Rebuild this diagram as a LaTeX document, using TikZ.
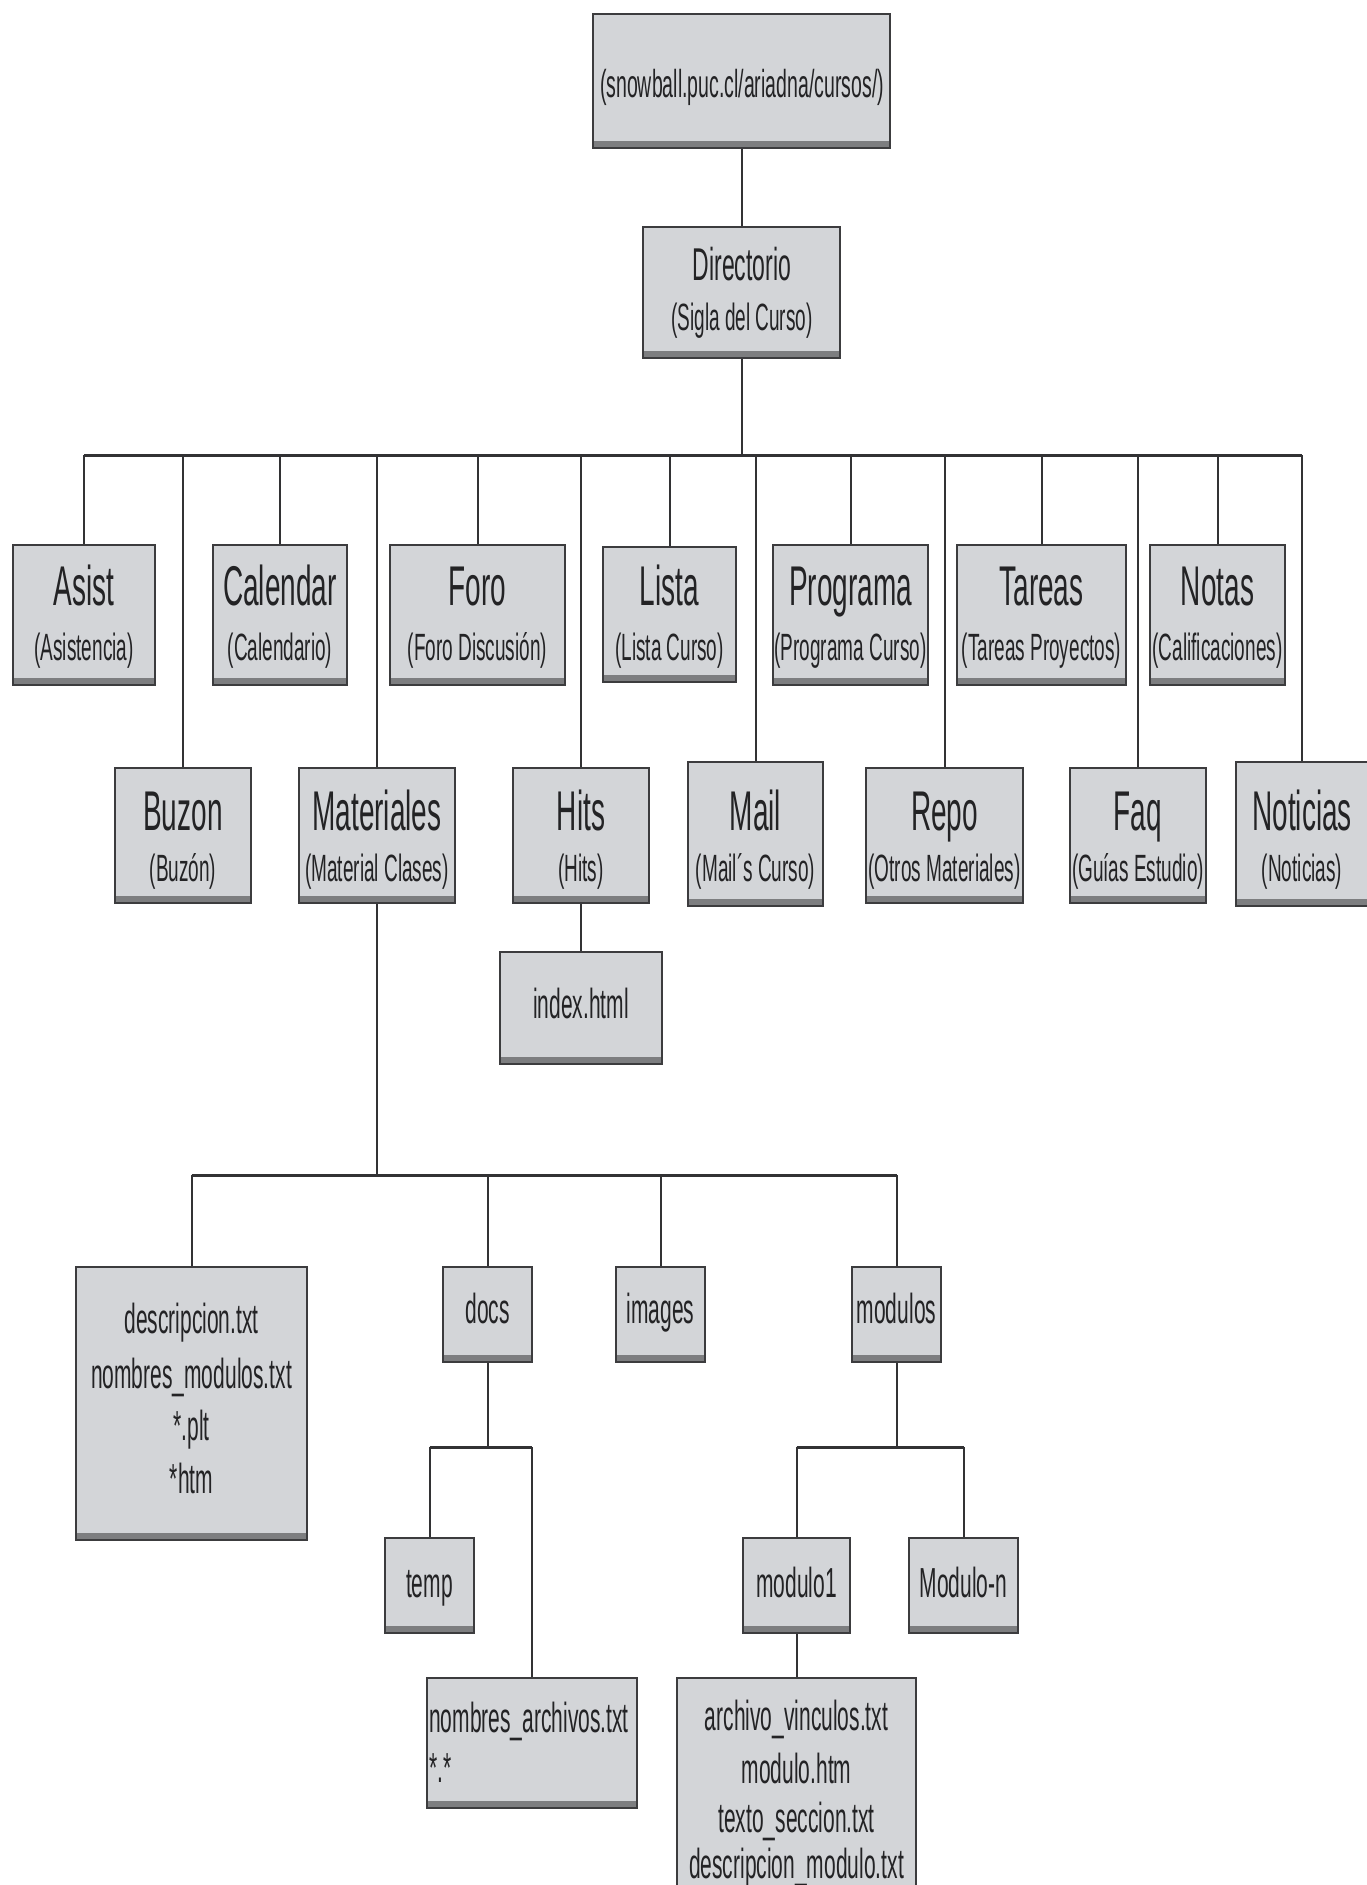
\documentclass[tikz,border=0pt]{standalone}
\usepackage{fontspec}
\setmainfont[FakeStretch=0.5]{Liberation Sans}
\definecolor{boxfill}{RGB}{211,213,216}
\definecolor{boxline}{RGB}{60,60,62}
\definecolor{boxband}{RGB}{125,126,128}
\definecolor{wirecol}{RGB}{50,50,52}
\definecolor{ink}{RGB}{35,35,37}

% font sizes
\newcommand\fnTop{\fontsize{39}{44}\selectfont}
\newcommand\fnDir{\fontsize{46}{50}\selectfont}
\newcommand\fnSig{\fontsize{38}{42}\selectfont}
\newcommand\fnName{\fontsize{56}{60}\selectfont}
\newcommand\fnSub{\fontsize{38}{42}\selectfont}
\newcommand\fnFile{\fontsize{42}{46}\selectfont}

\tikzset{
  box/.style={rectangle, draw=boxline, line width=2.4pt, fill=boxfill, inner sep=0pt,
    path picture={\fill[boxband] (path picture bounding box.south west)
      rectangle ([yshift=7pt]path picture bounding box.south east);}},
  wire/.style={draw=wirecol, line width=2pt},
  busline/.style={draw=wirecol, line width=3pt},
  lbl/.style={anchor=base, inner sep=0pt, text=ink},
}

% box from its corners (x1,y1)-(x2,y2), y measured downwards
\newcommand\mkbox[5]{%
  \node[box, minimum width={(#4-#2)*1pt}, minimum height={(#5-#3)*1pt}]
    (#1) at ({(#2+#4)/2},{(#3+#5)/2}) {};}
% text placed on its baseline
\newcommand\mktxt[5]{\node[lbl, font=#2] (#1) at (#3,#4) {#5};}

\begin{document}
\begin{tikzpicture}[x=1pt,y=-1pt]
\useasboundingbox (0,0) rectangle (1367,1885);
\fill[white] (0,0) rectangle (1367,1885);

% ---------- boxes ----------
\mkbox{top}{593}{14}{890}{148}
\mkbox{dir}{643}{227}{840}{358}

\mkbox{asist}{13}{545}{155}{685}
\mkbox{calendar}{213}{545}{347}{685}
\mkbox{foro}{390}{545}{565}{685}
\mkbox{lista}{603}{547}{736}{682}
\mkbox{programa}{773}{545}{928}{685}
\mkbox{tareas}{957}{545}{1126}{685}
\mkbox{notas}{1150}{545}{1285}{685}

\mkbox{buzon}{115}{768}{251}{903}
\mkbox{materiales}{299}{768}{455}{903}
\mkbox{hits}{513}{768}{649}{903}
\mkbox{mail}{688}{762}{823}{906}
\mkbox{repo}{866}{768}{1023}{903}
\mkbox{faq}{1070}{768}{1206}{903}
\mkbox{noticias}{1236}{762}{1368}{906}

\mkbox{index}{500}{952}{662}{1064}

\mkbox{descr}{76}{1267}{307}{1540}
\mkbox{docs}{443}{1267}{532}{1362}
\mkbox{images}{616}{1267}{705}{1362}
\mkbox{modulos}{852}{1267}{941}{1362}

\mkbox{temp}{385}{1538}{474}{1633}
\mkbox{narch}{427}{1678}{637}{1808}
\mkbox{modulo1}{743}{1538}{850}{1633}
\mkbox{modulon}{909}{1538}{1018}{1633}
\mkbox{archivo}{677}{1678}{916}{1905}

% ---------- connectors ----------
\coordinate (busA) at (0,455);
\coordinate (busB) at (0,1175);
\coordinate (busC) at (0,1447);

\draw[wire] (top.south) -- (dir.north);
\draw[wire] (dir.south) -- (dir.south |- busA);
\draw[busline] (asist.north |- busA) -- (noticias.north |- busA);
\foreach \n in {asist,buzon,calendar,materiales,foro,hits,lista,mail,
                programa,repo,tareas,faq,notas,noticias}
  \draw[wire] (\n.north |- busA) -- (\n.north);

\draw[wire] (hits.south) -- (index.north);

\draw[wire] (materiales.south) -- (materiales.south |- busB);
\draw[busline] (descr.north |- busB) -- (modulos.north |- busB);
\foreach \n in {descr,docs,images,modulos}
  \draw[wire] (\n.north |- busB) -- (\n.north);

\draw[wire] (docs.south) -- (docs.south |- busC);
\draw[busline] (temp.north |- busC) -- (narch.north |- busC);
\foreach \n in {temp,narch}
  \draw[wire] (\n.north |- busC) -- (\n.north);

\draw[wire] (modulos.south) -- (modulos.south |- busC);
\draw[busline] (modulo1.north |- busC) -- (modulon.north |- busC);
\foreach \n in {modulo1,modulon}
  \draw[wire] (\n.north |- busC) -- (\n.north);

\draw[wire] (modulo1.south) -- (archivo.north);

% ---------- labels ----------
\mktxt{top-t}{\fnTop}{742}{97}{(snowball.puc.cl/ariadna/cursos/)}
\mktxt{dir-t}{\fnDir}{742}{280}{Directorio}
\mktxt{dir-s}{\fnSig}{742}{330}{(Sigla del Curso)}

\mktxt{asist-t}{\fnName}{84}{605}{Asist}
\mktxt{asist-s}{\fnSub}{84}{660}{(Asistencia)}
\mktxt{calendar-t}{\fnName}{280}{605}{Calendar}
\mktxt{calendar-s}{\fnSub}{280}{660}{(Calendario)}
\mktxt{foro-t}{\fnName}{477.5}{605}{Foro}
\mktxt{foro-s}{\fnSub}{477.5}{660}{(Foro Discusión)}
\mktxt{lista-t}{\fnName}{669.5}{605}{Lista}
\mktxt{lista-s}{\fnSub}{669.5}{660}{(Lista Curso)}
\mktxt{programa-t}{\fnName}{850.5}{605}{Programa}
\mktxt{programa-s}{\fnSub}{850.5}{660}{(Programa Curso)}
\mktxt{tareas-t}{\fnName}{1041.5}{605}{Tareas}
\mktxt{tareas-s}{\fnSub}{1041.5}{660}{(Tareas Proyectos)}
\mktxt{notas-t}{\fnName}{1217.5}{605}{Notas}
\mktxt{notas-s}{\fnSub}{1217.5}{660}{(Calificaciones)}

\mktxt{buzon-t}{\fnName}{183}{830}{Buzon}
\mktxt{buzon-s}{\fnSub}{183}{881}{(Buzón)}
\mktxt{materiales-t}{\fnName}{377}{830}{Materiales}
\mktxt{materiales-s}{\fnSub}{377}{881}{(Material Clases)}
\mktxt{hits-t}{\fnName}{581}{830}{Hits}
\mktxt{hits-s}{\fnSub}{581}{881}{(Hits)}
\mktxt{mail-t}{\fnName}{755.5}{830}{Mail}
\mktxt{mail-s}{\fnSub}{755.5}{881}{(Mail´s Curso)}
\mktxt{repo-t}{\fnName}{944.5}{830}{Repo}
\mktxt{repo-s}{\fnSub}{944.5}{881}{(Otros Materiales)}
\mktxt{faq-t}{\fnName}{1138}{830}{Faq}
\mktxt{faq-s}{\fnSub}{1138}{881}{(Guías Estudio)}
\mktxt{noticias-t}{\fnName}{1302}{830}{Noticias}
\mktxt{noticias-s}{\fnSub}{1302}{881}{(Noticias)}

\mktxt{index-t}{\fnFile}{581}{1018}{index.html}

\mktxt{descr-a}{\fnFile}{191.5}{1333}{descripcion.txt}
\mktxt{descr-b}{\fnFile}{191.5}{1388}{nombres\_modulos.txt}
\mktxt{descr-c}{\fnFile}{191.5}{1440}{*.plt}
\mktxt{descr-d}{\fnFile}{191.5}{1493}{*htm}

\mktxt{docs-t}{\fnFile}{487.5}{1323}{docs}
\mktxt{images-t}{\fnFile}{660.5}{1323}{images}
\mktxt{modulos-t}{\fnFile}{896.5}{1323}{modulos}

\mktxt{temp-t}{\fnFile}{429.5}{1597}{temp}
\mktxt{modulo1-t}{\fnFile}{796.5}{1597}{modulo1}
\mktxt{modulon-t}{\fnFile}{963.5}{1597}{Modulo-n}

\node[lbl, anchor=base west, font=\fnFile] (narch-a) at (429,1732) {nombres\_archivos.txt};
\node[lbl, anchor=base west, font=\fnFile] (narch-b) at (429,1782) {*.*};

\mktxt{archivo-a}{\fnFile}{796.5}{1730}{archivo\_vinculos.txt}
\mktxt{archivo-b}{\fnFile}{796.5}{1783}{modulo.htm}
\mktxt{archivo-c}{\fnFile}{796.5}{1832}{texto\_seccion.txt}
\mktxt{archivo-d}{\fnFile}{796.5}{1878}{descripcion\_modulo.txt}
\end{tikzpicture}
\end{document}
